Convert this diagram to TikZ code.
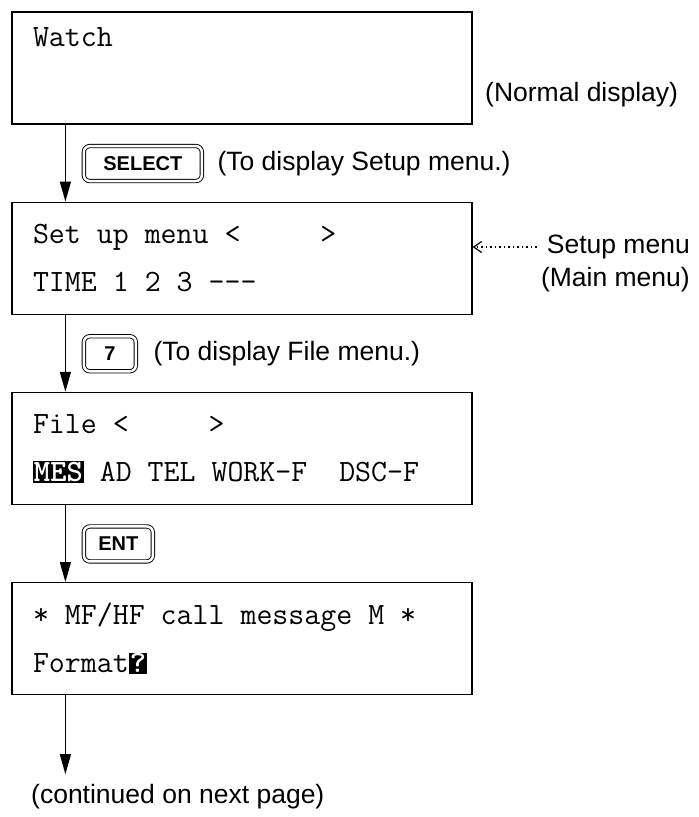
\documentclass[tikz,border=0pt]{standalone}
\usepackage{fontspec}
\setsansfont{Liberation Sans}
\usetikzlibrary{arrows.meta, positioning}
\newcommand\invtext[1]{{\setlength\fboxsep{1pt}\colorbox{black}{\textcolor{white}{\bfseries #1}}}}

\begin{document}
\begin{tikzpicture}[
  x=1pt, y=-1pt,
  node distance=77pt,
  pantalla/.style={
    rectangle, draw, line width=1.2pt,
    minimum width=460pt, minimum height=112pt,
    text width=418pt, align=flush left, inner xsep=21pt,
    font=\fontsize{31}{48}\selectfont\ttfamily
  },
  tecla/.style={
    rectangle, rounded corners=6pt, draw, line width=0.9pt,
    double, double distance=2.5pt,
    minimum height=35pt, inner sep=0pt,
    font=\fontsize{20}{22}\selectfont\sffamily\bfseries
  },
  arr/.style={-{Triangle[length=20pt, width=11pt]}, line width=1.3pt},
  dotarr/.style={-{Straight Barb[length=8pt, width=11pt]}, line width=1.2pt,
                 dash pattern=on 1.5pt off 3pt, shorten <=10pt},
  lab/.style={font=\fontsize{26.5}{30}\selectfont\sffamily, inner sep=0pt}
]
  \useasboundingbox (0,0) rectangle (699,817);

  \node[pantalla] (watch) at (242,68) {Watch\\\strut};
  \node[pantalla, below=of watch] (setup) {Set up menu <\ \ \ \ \ >\\TIME 1 2 3 -{}-{}-};
  \node[pantalla, below=of setup] (file)  {File <\ \ \ \ \ >\\\invtext{MES} AD TEL WORK-F\ \ DSC-F};
  \node[pantalla, below=of file]  (msg)   {* MF/HF call message M *\\Format\invtext{?}};
  \coordinate (fin) at ([xshift=54pt, yshift=-79pt]msg.south west);

  \draw[arr] ([xshift=54pt]watch.south west) -- ([xshift=54pt]setup.north west);
  \draw[arr] ([xshift=54pt]setup.south west) -- ([xshift=54pt]file.north west);
  \draw[arr] ([xshift=54pt]file.south west)  -- ([xshift=54pt]msg.north west);
  \draw[arr] ([xshift=54pt]msg.south west)   -- (fin);

  \node[tecla, minimum width=118pt, below right=21pt and 72pt of watch.south west] (select) {SELECT};
  \node[tecla, minimum width=52pt,  below right=21pt and 72pt of setup.south west] (siete)  {7};
  \node[tecla, minimum width=69pt,  below right=21pt and 72pt of file.south west]  (ent)    {ENT};
  \node[lab, right=15pt of select] (selectlbl) {(To display Setup menu.)};
  \node[lab, right=17pt of siete]  (sietelbl)  {(To display File menu.)};

  \node[lab, anchor=west] (normal)   at (485,95)  {(Normal display)};
  \node[lab, anchor=east] (setuplbl) at (690,247) {Setup menu};
  \node[lab, anchor=east] (mainlbl)  at (690,280) {(Main menu)};
  \draw[dotarr] (setuplbl.west) -- (setuplbl.west -| setup.east);

  \node[lab, anchor=west] (cont) at (31,797) {(continued on next page)};
\end{tikzpicture}
\end{document}
